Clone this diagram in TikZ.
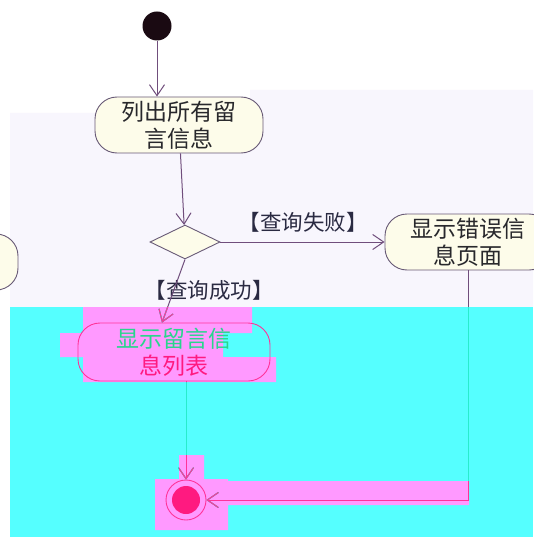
\documentclass[tikz,border=0pt]{standalone}
\usepackage{fontspec}
\setmainfont{Noto Sans CJK SC}
\usepackage{tikz}
\usetikzlibrary{positioning,arrows.meta,shapes.geometric}
\definecolor{flowline}{RGB}{112,78,124}
\definecolor{nodeline}{RGB}{104,90,118}
\definecolor{actfill}{RGB}{253,252,234}
\definecolor{nodetext}{RGB}{40,40,44}
\definecolor{guardtext}{RGB}{42,42,66}
\definecolor{paper}{RGB}{248,246,253}
\definecolor{glitchcyan}{RGB}{85,255,255}
\definecolor{glitchpink}{RGB}{255,153,255}
\definecolor{tealline}{RGB}{40,236,204}
\definecolor{pinkline}{RGB}{255,51,153}
\definecolor{endfill}{RGB}{255,26,128}
\definecolor{greentext}{RGB}{40,214,140}
% glitch patches and the links, reused for the clipped recolouring
\newcommand{\pinkpatches}{(83,307) rectangle (252,333) (60,333) rectangle (223,357) (83,357) rectangle (276,382) (155,479) rectangle (228,530) (179,455) rectangle (204,479) (204,481) rectangle (469,505)}
\newcommand{\flowlinks}{%
\draw[link] (start) -- (start |- act1.north);
\draw[link] (act1) -- (dec);
\draw[link] (dec) -- (act2);
\draw[link] (dec.south) -- ([xshift=-12pt]act3.north);
\draw[link] (endring |- act3.south) -- (endring);
\draw[link] (act2.south) |- (endring);}

\begin{document}
\begin{tikzpicture}[x=1pt, y=-1pt, >={Straight Barb[length=11pt,width=15pt]}]
\tikzset{act/.style={draw=nodeline, fill=actfill, rectangle, rounded corners=22pt, minimum height=56pt, align=center, inner sep=0pt, text=nodetext, line width=0.9pt, font=\fontsize{23}{27}\selectfont},link/.style={->, line width=1pt},guard/.style={text=guardtext, inner sep=1pt, font=\fontsize{21.5}{24}\selectfont}}
% background
\useasboundingbox (0,0) rectangle (533,540);
\fill[white] (0,0) rectangle (533,540);
\fill[paper] (10,113) rectangle (533,307) (250,90) rectangle (533,113);
\fill[glitchcyan] (10,307) rectangle (533,537);
\fill[glitchpink] \pinkpatches;
% nodes
\node[circle, fill={rgb,255:red,26;green,10;blue,18}, minimum size=29pt, inner sep=0pt] (start) at (157,26) {};
\node[act, minimum width=168pt] (act1) at (179,125) {列出所有留\\言信息};
\node[diamond, draw=nodeline, fill=actfill, line width=0.9pt, aspect=2, minimum width=70pt, minimum height=34pt, inner sep=0pt] (dec) at (185,242) {};
\node[act, minimum width=166pt] (act2) at (468,242) {显示错误信\\息页面};
\node[act, minimum width=100pt] (prev) at (-32,262) {};
\node[act, fill=none, draw=pinkline, minimum width=192pt, minimum height=58pt] (act3) at (174,352) {\textcolor{greentext}{显示留言信}\\\textcolor{endfill}{息列表}};
\node[circle, draw=pinkline, line width=0.9pt, minimum size=40pt, inner sep=0pt] (endring) at (186,500) {};
\node[circle, fill=endfill, minimum size=28pt, inner sep=0pt] (endcore) at (endring) {};
\node[guard] (fail) at (303,222) {【查询失败】};
\node[guard] (ok) at (209,290) {【查询成功】};
% links
\begin{scope}[flowline]\flowlinks\end{scope}
\begin{scope}
\clip (10,307) rectangle (533,540);
\begin{scope}[tealline]\flowlinks\end{scope}
\end{scope}
\begin{scope}
\clip \pinkpatches;
\begin{scope}[pinkline]\flowlinks\end{scope}
\end{scope}
\end{tikzpicture}
\end{document}
